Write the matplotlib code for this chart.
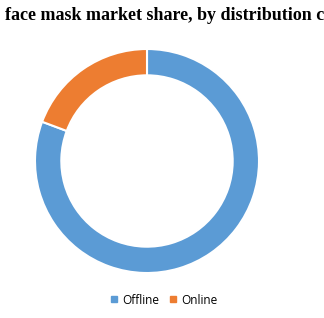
import matplotlib
matplotlib.use("Agg")
import matplotlib.pyplot as plt
from matplotlib.lines import Line2D

labels = ["Offline", "Online"]
values = [80.7, 19.3]
colors = ["#5B9BD5", "#ED7D31"]
title = "face mask market share, by distribution channel"

fig = plt.figure(figsize=(3.24, 3.18), dpi=100)
W, H = 324, 318
cx, cy, r = 147, 161, 112
ax = fig.add_axes([(cx - r) / W, (H - cy - r) / H, 2 * r / W, 2 * r / H])
ax.pie(values, colors=colors, startangle=90, counterclock=False,
       wedgeprops=dict(width=0.235, edgecolor="white", linewidth=1.5))
ax.set_xlim(-1, 1)
ax.set_ylim(-1, 1)
ax.set_aspect("equal")

fig.text(5 / W, 1 - 20 / H, title, ha="left", va="baseline",
         fontsize=13, fontweight="bold", family="Liberation Serif")

handles = [Line2D([0], [0], marker="s", linestyle="none", markersize=5,
                  markerfacecolor=c, markeredgecolor=c) for c in colors]
fig.legend(handles, labels, loc="center", bbox_to_anchor=(163 / W, 1 - 300 / H),
           ncol=2, frameon=False, handletextpad=0.2,
           columnspacing=0.7, handlelength=1.0,
           prop=dict(family="Open Sans", size=8.5))

fig.savefig("out.png", dpi=100)
